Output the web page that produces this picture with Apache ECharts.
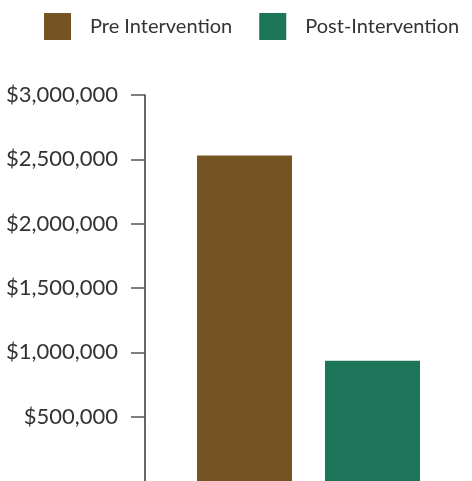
<!DOCTYPE html>
<html>
<head>
<meta charset="utf-8">
<style>
  html, body { margin: 0; padding: 0; background: #fff; }
  #chart { width: 472px; height: 481px; }
</style>
<script src="https://cdn.jsdelivr.net/npm/echarts@6/dist/echarts.min.js"></script>
</head>
<body>
<div id="chart"></div>
<script>
// Program cost before and after the intervention
const categories = ['Cost'];
const seriesNames = ['Pre Intervention', 'Post-Intervention'];
const preValues = [2530000];
const postValues = [934000];
const yTicks = { min: 0, max: 3000000, interval: 500000 };

const FONT = 'Lato, "Open Sans", sans-serif';
const TEXT = '#333333';

const chart = echarts.init(document.getElementById('chart'), null, { renderer: 'canvas' });

function money(v) {
  return '$' + v.toLocaleString('en-US');
}

chart.setOption({
  animation: false,
  textStyle: { fontFamily: FONT },
  legend: {
    top: 13,
    left: 44,
    padding: 0,
    itemWidth: 27,
    itemHeight: 27,
    itemGap: 27,
    icon: 'rect',
    textStyle: { fontSize: 20, color: TEXT, fontFamily: FONT, padding: [0, 0, 0, 14] },
    data: seriesNames
  },
  grid: { left: 145, width: 331, top: 95, height: 389, containLabel: false },
  xAxis: {
    type: 'category',
    data: categories,
    axisLine: { show: false },
    axisTick: { show: false },
    axisLabel: { show: false }
  },
  yAxis: {
    type: 'value',
    min: yTicks.min,
    max: yTicks.max,
    interval: yTicks.interval,
    axisLine: { show: true, lineStyle: { color: '#333', width: 1.5 } },
    axisTick: { show: true, length: 14, lineStyle: { color: '#555', width: 1.5 } },
    splitLine: { show: false },
    axisLabel: {
      margin: 27,
      fontSize: 22,
      color: TEXT,
      fontFamily: FONT,
      showMinLabel: false,
      formatter: money
    }
  },
  series: [
    {
      name: seriesNames[0],
      type: 'bar',
      data: preValues,
      barWidth: 95,
      barGap: '34.7%',
      itemStyle: { color: '#745422' }
    },
    {
      name: seriesNames[1],
      type: 'bar',
      data: postValues,
      barWidth: 95,
      itemStyle: { color: '#1c7459' }
    }
  ]
});
</script>
</body>
</html>
